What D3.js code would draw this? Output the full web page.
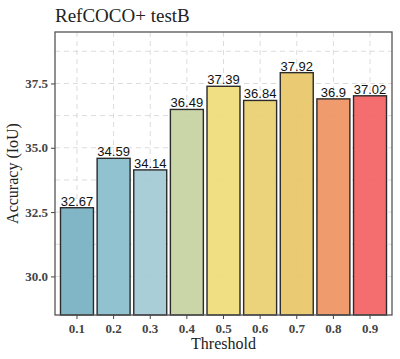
<!DOCTYPE html>
<html>
<head>
<meta charset="utf-8">
<script src="https://cdn.jsdelivr.net/npm/d3@7"></script>
<style>
  body { margin: 0; background: #fff; }
  svg { display: block; }
  .grid line { stroke: #dcdcdc; stroke-dasharray: 5 4; stroke-width: 1; }
</style>
</head>
<body>
<svg id="chart" width="400" height="359"></svg>
<script>
const thresholds = ['0.1', '0.2', '0.3', '0.4', '0.5', '0.6', '0.7', '0.8', '0.9'];
const accuracy = [32.67, 34.59, 34.14, 36.49, 37.39, 36.84, 37.92, 36.9, 37.02];
const barColors = ['#76b0c1', '#87bdcb', '#a3cad5', '#c6d3a0', '#f0dd78', '#e9cf70', '#e8c566', '#ee9262', '#f36264'];
const yTicks = [30.0, 32.5, 35.0, 37.5];
const yMinor = [31.25, 33.75, 36.25, 38.75];

const margin = { top: 32, right: 8, bottom: 44, left: 55 };
const width = 400, height = 359;
const serif = '"Liberation Serif", "Times New Roman", serif';
const svg = d3.select('#chart');

// ggplot-like discrete scale: 0.6 expansion each side, bar width 0.9
const x = d3.scaleBand()
  .domain(thresholds)
  .range([margin.left, width - margin.right])
  .paddingInner(0.1)
  .paddingOuter(0.15);

const y = d3.scaleLinear()
  .domain([28.5, 39.5])
  .range([height - margin.bottom, margin.top]);

// dashed grid (major + minor)
const grid = svg.append('g').attr('class', 'grid');
grid.selectAll('.hy')
  .data(yTicks.concat(yMinor))
  .enter().append('line')
  .attr('x1', margin.left).attr('x2', width - margin.right)
  .attr('y1', d => y(d)).attr('y2', d => y(d));
grid.selectAll('.vx')
  .data(thresholds)
  .enter().append('line')
  .attr('x1', d => x(d) + x.bandwidth() / 2).attr('x2', d => x(d) + x.bandwidth() / 2)
  .attr('y1', margin.top).attr('y2', height - margin.bottom);

// bars
svg.append('g')
  .selectAll('rect')
  .data(accuracy)
  .enter().append('rect')
  .attr('x', (d, i) => x(thresholds[i]))
  .attr('width', x.bandwidth())
  .attr('y', d => y(d))
  .attr('height', d => y(28.5) - y(d))
  .attr('fill', (d, i) => barColors[i])
  .attr('fill-opacity', 0.92)
  .attr('stroke', '#2b2b2b')
  .attr('stroke-width', 1.4);

// value labels
svg.append('g')
  .selectAll('text')
  .data(accuracy)
  .enter().append('text')
  .attr('x', (d, i) => x(thresholds[i]) + x.bandwidth() / 2)
  .attr('y', d => y(d) - 2)
  .attr('text-anchor', 'middle')
  .attr('font-family', '"Liberation Sans", Arial, sans-serif')
  .attr('font-size', 13)
  .attr('fill', '#111')
  .text(d => d);

// panel border
svg.append('rect')
  .attr('x', margin.left).attr('y', margin.top)
  .attr('width', width - margin.left - margin.right)
  .attr('height', height - margin.top - margin.bottom)
  .attr('fill', 'none')
  .attr('stroke', '#555')
  .attr('stroke-width', 1.3);

// axes
const yAxis = svg.append('g')
  .attr('transform', `translate(${margin.left},0)`)
  .call(d3.axisLeft(y).tickValues(yTicks).tickFormat(d3.format('.1f')).tickSize(4).tickPadding(3));
const xAxis = svg.append('g')
  .attr('transform', `translate(0,${height - margin.bottom})`)
  .call(d3.axisBottom(x).tickSize(4).tickPadding(5));
[yAxis, xAxis].forEach(a => {
  a.attr('font-family', serif).attr('font-size', 13).attr('font-weight', 'bold');
  a.select('.domain').remove();
  a.selectAll('.tick line').attr('stroke', '#444');
  a.selectAll('.tick text').attr('fill', '#444');
});

// titles
svg.append('text')
  .attr('x', margin.left).attr('y', 22)
  .attr('font-family', serif)
  .attr('font-size', 19)
  .attr('fill', '#222')
  .text('RefCOCO+ testB');

svg.append('text')
  .attr('x', (margin.left + width - margin.right) / 2)
  .attr('y', 349)
  .attr('text-anchor', 'middle')
  .attr('font-family', serif)
  .attr('font-size', 16)
  .attr('fill', '#222')
  .text('Threshold');

svg.append('text')
  .attr('transform', `translate(18,${(margin.top + height - margin.bottom) / 2}) rotate(-90)`)
  .attr('text-anchor', 'middle')
  .attr('font-family', serif)
  .attr('font-size', 16)
  .attr('fill', '#222')
  .text('Accuracy (IoU)');
</script>
</body>
</html>
